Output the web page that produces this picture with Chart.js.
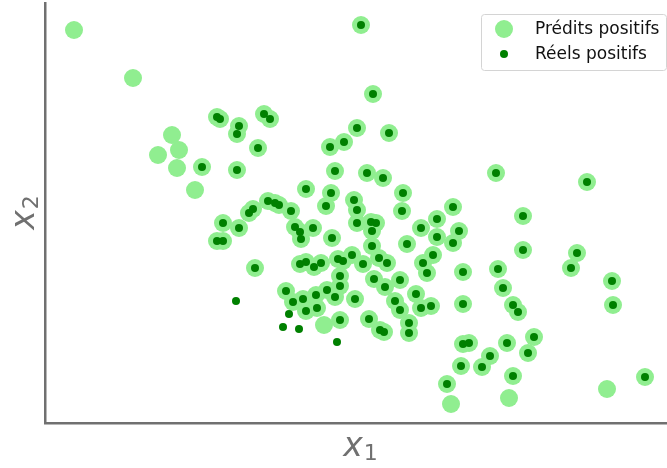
<!DOCTYPE html>
<html>
<head>
<meta charset="utf-8">
<script src="https://cdn.jsdelivr.net/npm/chart.js@4"></script>
<style>
  html, body { margin: 0; padding: 0; background: #fff; }
  #wrap { width: 667px; height: 468px; }
</style>
</head>
<body>
<div id="wrap"><canvas id="scatterChart" width="667" height="468"></canvas></div>
<script>
// points both predicted and real positives
const bothX = [316,328,172,175,194,192,219,225,312,344,299,285,213,157,192,290,322,338,451,542,
  261,286,358,309,281,223,230,234,246,204,208,312,357,408,178,194,172,178,250,255,
  256,268,287,312,326,331,327,376,392,414,392,408,478,478,362,327,307,293,298,318,
  334,342,378,388,532,526,210,255,261,269,276,295,295,329,340,355,382,418,453,458,
  241,248,258,271,282,290,310,272,261,371,350,355,376,386,418,468,473,567,568,295,
  324,335,339,364,364,418,424,462,489,483,445,437,416,402,468,600];
const bothY = [398,329,306,304,297,289,309,304,295,290,281,276,275,256,253,252,250,245,250,241,
  234,230,230,223,217,222,220,218,212,210,214,213,212,216,200,195,182,182,196,191,
  184,195,185,200,201,200,192,195,204,192,186,180,207,173,179,177,168,164,162,159,
  165,160,160,168,170,155,155,159,161,156,160,147,137,144,136,143,150,151,154,135,
  132,121,124,128,133,126,124,115,112,129,122,113,115,117,119,118,111,142,118,103,
  104,93,91,100,90,79,80,80,86,70,67,56,57,39,47,46];

// predicted positives that are not real positives
const predOnlyX = [29,88,127,113,134,132,150,279,406,464,562];
const predOnlyY = [393,345,288,268,273,255,233,98,19,25,34];

// real positives that were not predicted
const realOnlyX = [191,244,238,254,292];
const realOnlyY = [122,109,96,94,81];

const xRange = [0, 622];
const yRange = [0, 420];

function toPoints(xs, ys){
  return xs.map((x, i) => ({ x: x, y: ys[i] }));
}

const predicted = toPoints(bothX.concat(predOnlyX), bothY.concat(predOnlyY));
const actual = toPoints(bothX.concat(realOnlyX), bothY.concat(realOnlyY));

const axisColor = '#707070';

// x with a subscript, like matplotlib mathtext
function mathLabel(c, base, sub, cx, baseline){
  c.font = 'italic 33px "DejaVu Sans"';
  const wb = c.measureText(base).width;
  c.font = '22px "DejaVu Sans"';
  const ws = c.measureText(sub).width;
  const start = cx - (wb + ws) / 2;
  c.font = 'italic 33px "DejaVu Sans"';
  c.fillText(base, start, baseline);
  c.font = '22px "DejaVu Sans"';
  c.fillText(sub, start + wb + 1, baseline + 4);
}

const axisLabels = {
  id: 'axisLabels',
  afterDraw(chart){
    const c = chart.ctx;
    const area = chart.chartArea;
    c.save();
    c.fillStyle = axisColor;
    c.textBaseline = 'alphabetic';
    mathLabel(c, 'x', '1', (area.left + area.right) / 2 + 4, area.bottom + 33);
    c.translate(area.left - 11, (area.top + area.bottom) / 2);
    c.rotate(-Math.PI / 2);
    mathLabel(c, 'x', '2', 0, 0);
    c.restore();
  }
};

const boxLegend = {
  id: 'boxLegend',
  afterDraw(chart){
    const c = chart.ctx;
    const x = 481, y = 14, w = 185, h = 56, r = 3;
    c.save();
    c.fillStyle = 'rgba(255,255,255,0.8)';
    c.strokeStyle = '#d4d4d4';
    c.lineWidth = 1;
    c.beginPath();
    c.roundRect(x + 0.5, y + 0.5, w, h, r);
    c.fill();
    c.stroke();
    c.font = '17px "DejaVu Sans"';
    c.textBaseline = 'middle';
    chart.data.datasets.forEach((ds, i) => {
      const cy = 29 + i * 25;
      c.fillStyle = ds.backgroundColor;
      c.beginPath();
      c.arc(504, cy, ds.pointRadius, 0, Math.PI * 2);
      c.fill();
      c.fillStyle = '#111';
      c.fillText(ds.label, 535, cy + 1);
    });
    c.restore();
  }
};

const ctx = document.getElementById('scatterChart').getContext('2d');

new Chart(ctx, {
  type: 'scatter',
  data: {
    datasets: [{
      label: 'Prédits positifs',
      data: predicted,
      backgroundColor: '#90ee90',
      pointRadius: 9,
      pointBorderWidth: 0,
      order: 2
    }, {
      label: 'Réels positifs',
      data: actual,
      backgroundColor: '#008000',
      pointRadius: 4,
      pointBorderWidth: 0,
      order: 1
    }]
  },
  options: {
    responsive: false,
    animation: false,
    layout: { autoPadding: false, padding: { top: 3, right: 0, left: 0, bottom: 0 } },
    plugins: {
      legend: { display: false },
      tooltip: { enabled: false }
    },
    scales: {
      x: {
        type: 'linear',
        min: xRange[0],
        max: xRange[1],
        grid: { display: false },
        ticks: { display: false },
        border: { display: true, color: axisColor, width: 2.5 },
        afterFit(scale){ scale.height = 45; }
      },
      y: {
        type: 'linear',
        min: yRange[0],
        max: yRange[1],
        grid: { display: false },
        ticks: { display: false },
        border: { display: true, color: axisColor, width: 2.5 },
        afterFit(scale){ scale.width = 45; }
      }
    }
  },
  plugins: [axisLabels, boxLegend]
});
</script>
</body>
</html>
